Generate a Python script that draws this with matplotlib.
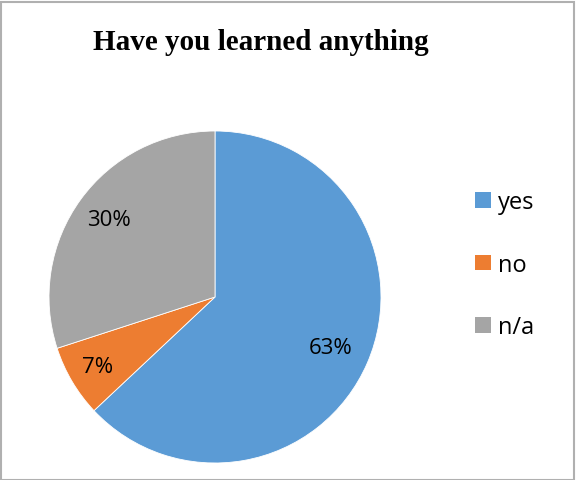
import matplotlib
matplotlib.use("Agg")
import matplotlib.pyplot as plt
from matplotlib.patches import Rectangle, Patch
import numpy as np

categories = ["yes", "no", "n/a"]
values = [63, 7, 30]
colors = ["#5b9bd5", "#ed7d31", "#a5a5a5"]
title = "Have you learned anything"

W, H = 577, 481
fig = plt.figure(figsize=(W / 100, H / 100), dpi=100)

# frame
fig.patches.append(Rectangle((0.5 / W, 0.5 / H), 1 - 3.5 / W, 1 - 3 / H, transform=fig.transFigure,
                             fill=False, edgecolor="#b0b0b0", linewidth=1.5))

cx, cy, r = 215, 481 - 298, 166
ax = fig.add_axes([(cx - r) / W, (cy - r) / H, 2 * r / W, 2 * r / H])
wedges, texts, autotexts = ax.pie(values, colors=colors, startangle=90, counterclock=False,
                                  radius=1.0, autopct="%d%%", pctdistance=0.78,
                                  wedgeprops=dict(edgecolor="white", linewidth=0.6),
                                  textprops=dict(fontsize=16, family="Open Sans", color="black"))
ax.set_xlim(-1, 1)
ax.set_ylim(-1, 1)
ax.set_aspect("equal")
ax.axis("off")

dists = [0.76, 0.82, 0.79]
for w, t, d in zip(wedges, autotexts, dists):
    ang = np.deg2rad((w.theta1 + w.theta2) / 2)
    t.set_position((d * np.cos(ang), d * np.sin(ang)))

fig.text(261 / W, 1 - 43 / H, title, ha="center", va="center", fontsize=21,
         fontweight="bold", family="Liberation Serif")

handles = [Patch(facecolor=c, edgecolor="none") for c in colors]
fig.legend(handles, categories, loc="upper left", bbox_to_anchor=(454 / W, 1 - 170 / H),
           frameon=False, prop=dict(family="Open Sans", size=17), handlelength=0.65,
           handleheight=0.65, handletextpad=0.3, labelspacing=1.63)

fig.savefig("out.png", dpi=100)
